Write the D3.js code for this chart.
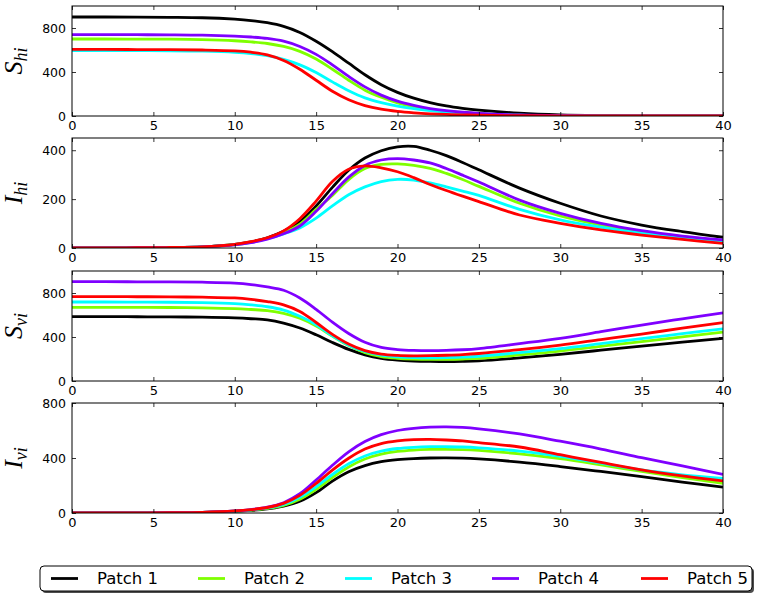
<!DOCTYPE html>
<html><head><meta charset="utf-8">
<script src="https://cdn.jsdelivr.net/npm/d3@7"></script>
<style>body{margin:0;background:#fff}svg{display:block}</style>
</head><body><svg id="c" width="763" height="599"></svg>
<script>
// ---- data ----
const T = [0,2,4,6,8,10,11,12,13,14,15,16,17,18,19,20,21,22,23,24,25,27.5,30,32.5,35,37.5,40];
const patches = ["Patch 1","Patch 2","Patch 3","Patch 4","Patch 5"];
const colors = ["#000000","#7fff00","#00ffff","#7f00ff","#ff0000"];
const xTicks = [0,5,10,15,20,25,30,35,40];

// S_hi
const shi1 = [900,900,899,897,893,880,868,848,815,760,680,585,480,375,285,215,162,122,92,70,53,25,10,4,2,1,0];
const shi2 = [700,700,699,698,694,684,674,659,632,588,518,425,325,235,170,120,85,60,42,30,21,8,3,1,0,0,0];
const shi3 = [595,595,594,593,589,579,568,548,515,465,395,310,230,165,122,90,67,50,37,27,19,7,3,1,0,0,0];
const shi4 = [740,740,739,738,735,726,718,705,680,632,560,465,360,265,190,135,97,68,48,34,24,10,4,2,1,0,0];
const shi5 = [605,605,604,603,600,592,580,556,505,425,325,225,148,95,62,42,29,20,14,10,7,3,1,0,0,0,0];
// I_hi
const ihi1 = [0,0,1,2,5,15,25,42,68,108,172,248,318,368,398,414,416,400,378,350,320,245,183,131,94,67,44];
const ihi2 = [0,0,1,2,5,14,24,40,64,98,158,215,280,325,342,344,338,326,305,280,252,183,131,94,67,46,29];
const ihi3 = [0,0,1,2,5,14,23,38,58,82,122,172,218,250,272,281,278,266,250,233,215,158,115,85,60,44,26];
const ihi4 = [0,0,1,2,5,13,22,36,58,90,150,222,290,338,360,366,360,348,325,298,270,196,142,101,71,49,33];
const ihi5 = [0,0,1,2,5,15,26,42,70,120,192,272,322,336,328,312,288,260,235,212,190,135,101,74,53,35,19];
// S_vi
const svi1 = [585,585,584,583,580,573,566,556,527,482,420,350,287,238,206,190,182,178,176,178,183,210,243,280,318,353,388];
const svi2 = [670,670,669,668,665,658,650,640,615,570,500,408,322,258,222,207,200,197,197,200,206,237,272,315,358,402,444];
const svi3 = [718,718,717,716,712,703,692,675,645,588,512,410,326,268,235,220,213,211,213,217,225,258,295,340,386,430,474];
const svi4 = [903,903,902,901,898,890,877,855,825,755,652,535,432,352,305,286,278,276,278,284,295,340,388,448,509,565,620];
const svi5 = [767,767,766,765,762,755,742,722,692,632,532,424,336,276,245,233,229,230,234,240,250,285,327,377,427,480,530];
// I_vi
const ivi1 = [0,0,1,2,4,12,19,30,50,85,148,232,300,345,373,388,396,400,401,399,393,370,338,302,265,225,188];
const ivi2 = [0,0,1,2,4,13,21,33,55,100,172,258,335,393,428,448,458,462,463,461,455,430,395,350,302,258,216];
const ivi3 = [0,0,1,2,5,14,23,37,63,115,190,280,358,415,450,469,478,482,482,480,474,450,412,362,313,278,252];
const ivi4 = [0,0,1,2,5,15,25,42,75,140,240,347,445,520,570,600,616,624,626,622,612,575,522,465,402,342,281];
const ivi5 = [0,0,1,2,5,15,25,40,70,128,215,312,398,465,505,524,533,535,531,524,512,480,424,368,314,270,233];

const panelData = [
  {main:"S", sub:"hi", yMax:1000, yTicks:[0,400,800], series:[shi1,shi2,shi3,shi4,shi5]},
  {main:"I", sub:"hi", yMax:450,  yTicks:[0,200,400], series:[ihi1,ihi2,ihi3,ihi4,ihi5]},
  {main:"S", sub:"vi", yMax:1000, yTicks:[0,400,800], series:[svi1,svi2,svi3,svi4,svi5]},
  {main:"I", sub:"vi", yMax:800,  yTicks:[0,400,800], series:[ivi1,ivi2,ivi3,ivi4,ivi5]}
];

// ---- layout ----
const svg = d3.select("#c");
const X0 = 72, X1 = 723, PH = 110;
const tops = [6, 138, 271, 403];
const x = d3.scaleLinear().domain([0,40]).range([X0,X1]);

panelData.forEach((p,i)=>{
  const top = tops[i], bot = top+PH;
  const y = d3.scaleLinear().domain([0,p.yMax]).range([bot, top]);
  const g = svg.append("g");
  const clipId = "clip"+i;
  svg.append("clipPath").attr("id",clipId).append("rect")
     .attr("x",X0).attr("y",top).attr("width",X1-X0).attr("height",PH);

  const line = d3.line().x((d,k)=>x(T[k])).y(d=>y(d)).curve(d3.curveCatmullRom.alpha(0.5));
  g.append("g").attr("clip-path",`url(#${clipId})`)
    .selectAll("path").data(p.series).join("path")
    .attr("d", d=>line(d)).attr("fill","none")
    .attr("stroke",(d,k)=>colors[k]).attr("stroke-width",2.8)
    .attr("stroke-linejoin","round");

  const ax = (gen, tx, ty, labels) => {
    const a = g.append("g").attr("transform",`translate(${tx},${ty})`).call(gen);
    a.select(".domain").remove();
    a.selectAll("line").attr("stroke","#000").attr("stroke-width",0.8);
    if(!labels) a.selectAll("text").remove();
    else a.selectAll("text").attr("fill","#000");
    a.attr("font-family","DejaVu Sans, sans-serif");
    return a;
  };
  const bx = ax(d3.axisBottom(x).tickValues(xTicks).tickSizeInner(-4).tickSizeOuter(0).tickPadding(5).tickFormat(d3.format("d")),0,bot,true);
  bx.attr("font-size",13);
  ax(d3.axisTop(x).tickValues(xTicks).tickSizeInner(-4).tickSizeOuter(0).tickFormat(""),0,top,false);
  const ly = ax(d3.axisLeft(y).tickValues(p.yTicks).tickSizeInner(-4).tickSizeOuter(0).tickPadding(6).tickFormat(d3.format("d")),X0,0,true);
  ly.attr("font-size",12.5);
  ax(d3.axisRight(y).tickValues(p.yTicks).tickSizeInner(-4).tickSizeOuter(0).tickFormat(""),X1,0,false);

  g.append("rect").attr("x",X0).attr("y",top).attr("width",X1-X0).attr("height",PH)
    .attr("fill","none").attr("stroke","#000").attr("stroke-width",1);

  const t = g.append("text")
    .attr("transform",`translate(22,${top+PH/2}) rotate(-90)`)
    .attr("text-anchor","middle")
    .attr("font-family","Liberation Serif, DejaVu Serif, serif")
    .attr("font-style","italic").attr("fill","#000");
  t.append("tspan").attr("font-size",26).text(p.main);
  t.append("tspan").attr("font-size",18).attr("dy",5).text(p.sub);
});

// legend
const L = {x:40, y:566, w:712, h:25};
svg.append("rect").attr("x",L.x+2).attr("y",L.y+2).attr("width",L.w).attr("height",L.h)
  .attr("rx",4).attr("fill","#4d4d4d");
svg.append("rect").attr("x",L.x).attr("y",L.y).attr("width",L.w).attr("height",L.h)
  .attr("rx",4).attr("fill","#fff").attr("stroke","#000").attr("stroke-width",1);
const lx = [51,198,345,492,641];
const le = svg.selectAll("g.leg").data(patches).join("g").attr("class","leg")
  .attr("transform",(d,k)=>`translate(${lx[k]},${L.y+L.h/2})`);
le.append("line").attr("x1",0).attr("x2",27).attr("y1",0).attr("y2",0)
  .attr("stroke",(d,k)=>colors[k]).attr("stroke-width",2.8);
le.append("text").attr("x",46).attr("y",0).attr("dy","0.35em")
  .attr("font-family","DejaVu Sans, sans-serif").attr("font-size",16.5)
  .attr("fill","#000").text(d=>d);
</script></body></html>
